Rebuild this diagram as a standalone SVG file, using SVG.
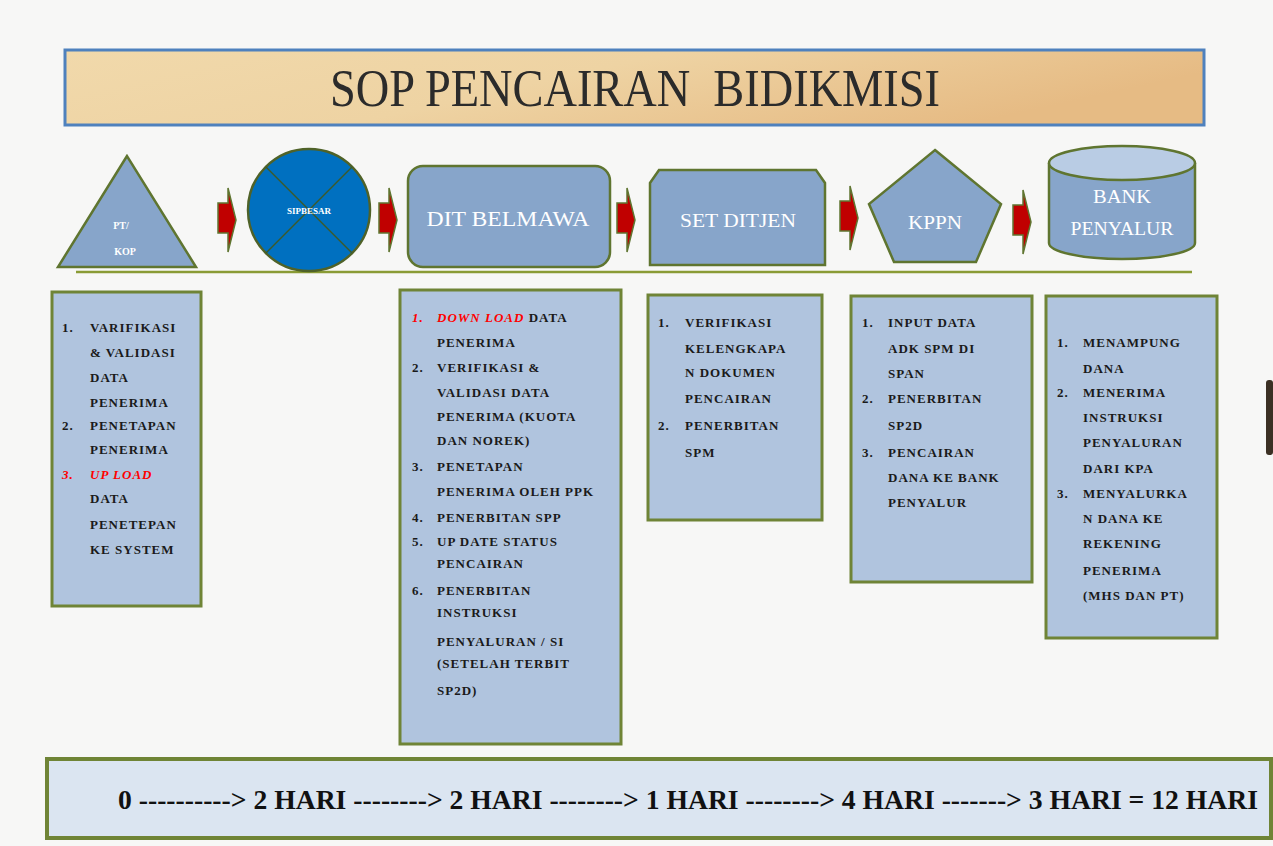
<svg xmlns="http://www.w3.org/2000/svg" width="1273" height="846" viewBox="0 0 1273 846">
<defs>
<linearGradient id="tg" x1="0" y1="0" x2="1" y2="0.3">
<stop offset="0" stop-color="#f1d9ab"/>
<stop offset="0.5" stop-color="#eed3a3"/>
<stop offset="1" stop-color="#e6bb84"/>
</linearGradient>
<style>
.shape{fill:#87a5ca;stroke:#5f7530;stroke-width:2.5}
.box{fill:#b0c4de;stroke:#6f8436;stroke-width:3}
.lbl{font-family:"Liberation Serif",serif;fill:#ffffff;text-anchor:middle}
.t{font-family:"Liberation Serif",serif;font-weight:bold;font-size:13px;letter-spacing:1px;fill:#1a1a1a}
.r{fill:#ff0000;font-style:italic}
.arr{fill:#c00000;stroke:#5f7530;stroke-width:1.5}
</style>
</defs>
<rect x="0" y="0" width="1273" height="846" fill="#f7f7f6"/>

<g id="title">
<rect x="65" y="50" width="1139" height="75" fill="url(#tg)" stroke="#4f81bd" stroke-width="3"/>
<text x="635" y="106" font-family="Liberation Serif, serif" font-size="52" fill="#2b2b2b" text-anchor="middle" textLength="610" lengthAdjust="spacingAndGlyphs" xml:space="preserve">SOP PENCAIRAN  BIDIKMISI</text>
</g>

<g id="connectors">
<path class="arr" d="M218,203 H228 V188 L236,220 L228,252 V233 H218 Z"/>
<path class="arr" d="M379,203 H389 V188 L397,220 L389,252 V233 H379 Z"/>
<path class="arr" d="M617,203 H627 V188 L635,220 L627,252 V233 H617 Z"/>
<path class="arr" d="M840,201 H850 V186 L858,218 L850,250 V231 H840 Z"/>
<path class="arr" d="M1013,205 H1023 V190 L1031,222 L1023,254 V235 H1013 Z"/>
<line x1="76" y1="272" x2="1192" y2="272" stroke="#8a9b35" stroke-width="2.5"/>
</g>

<g id="pt-kop">
<polygon class="shape" points="127,156 58,267 196,267"/>
<text class="lbl" x="121" y="229" font-size="10" font-weight="bold">PT/</text>
<text class="lbl" x="125" y="255" font-size="10" font-weight="bold">KOP</text>
</g>

<g id="sipbesar">
<circle cx="309" cy="210" r="61" fill="#0070c0" stroke="#4f6228" stroke-width="2.5"/>
<line x1="266" y1="167" x2="352" y2="253" stroke="#3c5a2a" stroke-width="1.5"/>
<line x1="352" y1="167" x2="266" y2="253" stroke="#3c5a2a" stroke-width="1.5"/>
<text class="lbl" x="309" y="214" font-size="9" font-weight="bold">SIPBESAR</text>
</g>

<g id="dit-belmawa">
<rect class="shape" x="408" y="166" width="202" height="101" rx="15"/>
<text class="lbl" x="508" y="226" font-size="22" textLength="163" lengthAdjust="spacingAndGlyphs">DIT BELMAWA</text>
</g>

<g id="set-ditjen">
<path class="shape" d="M659,170 H816 L825,183 V265 H650 V183 Z"/>
<text class="lbl" x="738" y="227" font-size="19" textLength="116" lengthAdjust="spacingAndGlyphs">SET DITJEN</text>
</g>

<g id="kppn">
<polygon class="shape" points="935,150 1001,204 976,262 894,262 869,204"/>
<text class="lbl" x="935" y="229" font-size="18" textLength="54" lengthAdjust="spacingAndGlyphs">KPPN</text>
</g>

<g id="bank-penyalur">
<path class="shape" d="M1049,163 V243 A73,16 0 0 0 1195,243 V163"/>
<ellipse cx="1122" cy="163" rx="73" ry="17" fill="#b9cce4" stroke="#5f7530" stroke-width="2.5"/>
<text class="lbl" x="1122" y="203" font-size="18" textLength="58" lengthAdjust="spacingAndGlyphs">BANK</text>
<text class="lbl" x="1122" y="235" font-size="18" textLength="103" lengthAdjust="spacingAndGlyphs">PENYALUR</text>
</g>

<g id="box-pt">
<rect class="box" x="52" y="292" width="149" height="314"/>
<text class="t"><tspan x="62" y="332">1.</tspan><tspan x="90" y="332">VARIFIKASI</tspan>
<tspan x="90" y="357">&amp; VALIDASI</tspan>
<tspan x="90" y="382">DATA</tspan>
<tspan x="90" y="407">PENERIMA</tspan>
<tspan x="62" y="430">2.</tspan><tspan x="90" y="430">PENETAPAN</tspan>
<tspan x="90" y="454">PENERIMA</tspan>
<tspan class="r" x="62" y="479">3.</tspan><tspan class="r" x="90" y="479">UP LOAD</tspan>
<tspan x="90" y="503">DATA</tspan>
<tspan x="90" y="529">PENETEPAN</tspan>
<tspan x="90" y="554">KE SYSTEM</tspan></text>
</g>

<g id="box-belmawa">
<rect class="box" x="400" y="290" width="221" height="454"/>
<text class="t"><tspan class="r" x="412" y="322">1.</tspan><tspan class="r" x="437" y="322">DOWN LOAD</tspan><tspan> DATA</tspan>
<tspan x="437" y="347">PENERIMA</tspan>
<tspan x="412" y="372">2.</tspan><tspan x="437" y="372">VERIFIKASI &amp;</tspan>
<tspan x="437" y="397">VALIDASI DATA</tspan>
<tspan x="437" y="421">PENERIMA (KUOTA</tspan>
<tspan x="437" y="445">DAN NOREK)</tspan>
<tspan x="412" y="471">3.</tspan><tspan x="437" y="471">PENETAPAN</tspan>
<tspan x="437" y="496">PENERIMA OLEH PPK</tspan>
<tspan x="412" y="522">4.</tspan><tspan x="437" y="522">PENERBITAN SPP</tspan>
<tspan x="412" y="546">5.</tspan><tspan x="437" y="546">UP DATE STATUS</tspan>
<tspan x="437" y="568">PENCAIRAN</tspan>
<tspan x="412" y="595">6.</tspan><tspan x="437" y="595">PENERBITAN</tspan>
<tspan x="437" y="617">INSTRUKSI</tspan>
<tspan x="437" y="646">PENYALURAN / SI</tspan>
<tspan x="437" y="668">(SETELAH TERBIT</tspan>
<tspan x="437" y="695">SP2D)</tspan></text>
</g>

<g id="box-setditjen">
<rect class="box" x="648" y="295" width="174" height="225"/>
<text class="t"><tspan x="658" y="327">1.</tspan><tspan x="685" y="327">VERIFIKASI</tspan>
<tspan x="685" y="353">KELENGKAPA</tspan>
<tspan x="685" y="377">N DOKUMEN</tspan>
<tspan x="685" y="403">PENCAIRAN</tspan>
<tspan x="658" y="430">2.</tspan><tspan x="685" y="430">PENERBITAN</tspan>
<tspan x="685" y="457">SPM</tspan></text>
</g>

<g id="box-kppn">
<rect class="box" x="851" y="296" width="181" height="286"/>
<text class="t"><tspan x="862" y="327">1.</tspan><tspan x="888" y="327">INPUT DATA</tspan>
<tspan x="888" y="353">ADK SPM DI</tspan>
<tspan x="888" y="378">SPAN</tspan>
<tspan x="862" y="403">2.</tspan><tspan x="888" y="403">PENERBITAN</tspan>
<tspan x="888" y="430">SP2D</tspan>
<tspan x="862" y="457">3.</tspan><tspan x="888" y="457">PENCAIRAN</tspan>
<tspan x="888" y="482">DANA KE BANK</tspan>
<tspan x="888" y="507">PENYALUR</tspan></text>
</g>

<g id="box-bank">
<rect class="box" x="1046" y="296" width="171" height="342"/>
<text class="t"><tspan x="1057" y="347">1.</tspan><tspan x="1083" y="347">MENAMPUNG</tspan>
<tspan x="1083" y="373">DANA</tspan>
<tspan x="1057" y="397">2.</tspan><tspan x="1083" y="397">MENERIMA</tspan>
<tspan x="1083" y="422">INSTRUKSI</tspan>
<tspan x="1083" y="447">PENYALURAN</tspan>
<tspan x="1083" y="473">DARI KPA</tspan>
<tspan x="1057" y="498">3.</tspan><tspan x="1083" y="498">MENYALURKA</tspan>
<tspan x="1083" y="523">N DANA KE</tspan>
<tspan x="1083" y="548">REKENING</tspan>
<tspan x="1083" y="575">PENERIMA</tspan>
<tspan x="1083" y="600">(MHS DAN PT)</tspan></text>
</g>

<rect x="1266" y="380" width="7" height="75" rx="3" fill="#3b3024"/>

<g id="timeline">
<rect x="47" y="759" width="1224" height="79" fill="#dbe5f1" stroke="#6f8436" stroke-width="4"/>
<text x="118" y="809" font-family="Liberation Serif, serif" font-weight="bold" font-size="28" fill="#111" textLength="1140" lengthAdjust="spacingAndGlyphs">0 ----------&gt; 2 HARI --------&gt; 2 HARI --------&gt; 1 HARI --------&gt; 4 HARI -------&gt; 3 HARI = 12 HARI</text>
</g>
</svg>
